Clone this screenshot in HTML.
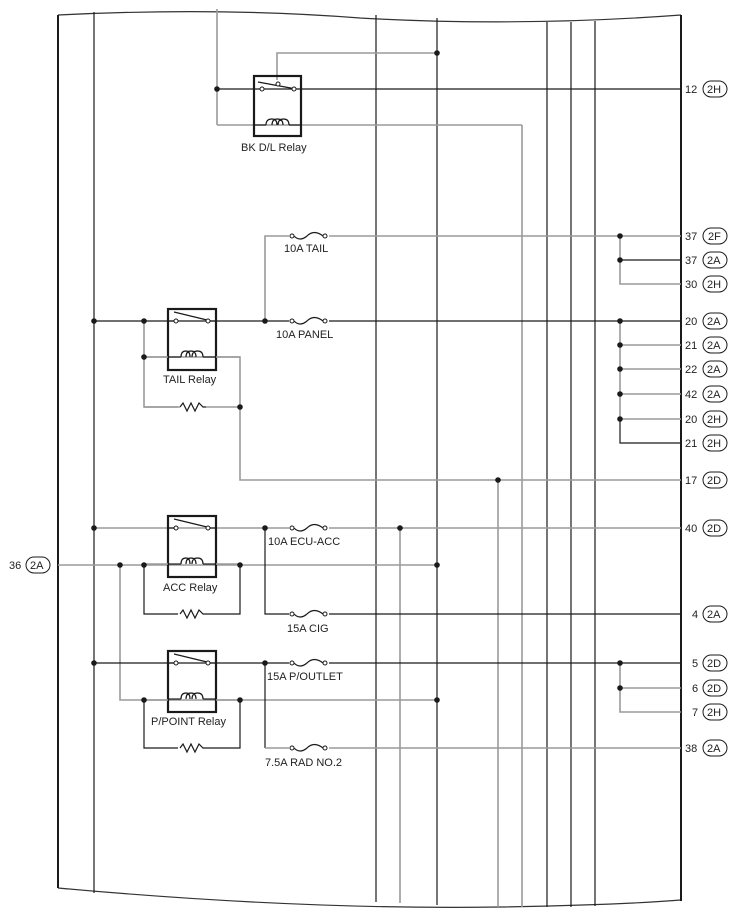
<!DOCTYPE html>
<html><head><meta charset="utf-8"><style>
body{margin:0;background:#fff}
svg{display:block}
text{font-family:"Liberation Sans",sans-serif;font-size:11px;fill:#222}
.k{stroke:#1a1a1a;stroke-width:1.2;fill:none}
.g{stroke:#9a9a9a;stroke-width:1.6;fill:none}
.box{stroke:#1a1a1a;stroke-width:2.2;fill:none}
.d{fill:#1a1a1a}
.o{fill:#fff;stroke:#1a1a1a;stroke-width:1}
.pill{fill:#fff;stroke:#1a1a1a;stroke-width:1}
</style></head><body>
<svg width="736" height="918" viewBox="0 0 736 918" xmlns="http://www.w3.org/2000/svg">
<!-- borders -->
<path d="M58,15 Q220,7 360,18 Q520,27 681,15" stroke="#333" stroke-width="1.2" fill="none"/>
<path d="M58,888 Q300,910 500,907 Q620,905 681,900" stroke="#333" stroke-width="1.2" fill="none"/>
<line x1="58" y1="15" x2="58" y2="888" stroke="#1a1a1a" stroke-width="2"/>
<line x1="681" y1="15" x2="681" y2="901" stroke="#1a1a1a" stroke-width="2"/>

<!-- verticals -->
<line class="k" x1="94" y1="12" x2="94" y2="893"/>
<line class="g" x1="217" y1="9" x2="217" y2="125"/>
<line class="k" x1="376" y1="15" x2="376" y2="902"/>
<line class="k" x1="437" y1="18" x2="437" y2="905"/>
<line class="g" x1="400" y1="528" x2="400" y2="903"/>
<line class="g" x1="498" y1="480" x2="498" y2="907"/>
<line class="g" x1="522" y1="125" x2="522" y2="907"/>
<line class="k" x1="547" y1="22" x2="547" y2="907"/>
<line class="k" x1="571" y1="22" x2="571" y2="907"/>
<line class="k" x1="595" y1="21" x2="595" y2="906"/>

<!-- BK D/L relay -->
<polyline class="g" points="437,53 277,53 277,80"/>
<line class="k" x1="217" y1="89" x2="681" y2="89"/>
<polyline class="g" points="217,125 522,125"/>
<rect class="box" x="254" y="76" width="47" height="60" fill="#fff"/>
<line class="k" x1="258" y1="82" x2="296" y2="89"/>
<line class="k" x1="254" y1="125" x2="266" y2="125"/><line class="k" x1="289" y1="125" x2="301" y2="125"/>
<path class="k" d="M266,125 Q266,119 272,119 Q277,119 277,125 M272,125 Q272,119 277.5,119 Q283,119 283,125 M278,125 Q278,119 283.5,119 Q289,119 289,125"/>
<circle class="o" cx="262" cy="89" r="2"/><circle class="o" cx="294" cy="89" r="2"/><circle class="o" cx="278" cy="84" r="2"/>
<circle class="d" cx="217" cy="89" r="2.8"/><circle class="d" cx="437" cy="53" r="2.8"/>
<text x="241" y="151" font-size="11.5">BK D/L Relay</text>

<!-- TAIL fuse -->
<polyline class="g" points="265,321 265,236 681,236"/>
<polyline class="k" points="620,260 681,260"/>
<polyline class="g" points="620,236 620,284 681,284"/>
<circle class="d" cx="620" cy="236" r="2.8"/><circle class="d" cx="620" cy="260" r="2.8"/>
<text x="284" y="252">10A TAIL</text>

<!-- TAIL relay row -->
<line class="k" x1="94" y1="321" x2="681" y2="321"/>
<polyline class="g" points="144,321 144,407 240,407"/>
<polyline class="g" points="144,357 240,357 240,480 681,480"/>
<polyline class="g" points="620,321 620,419"/>
<polyline class="k" points="620,419 620,443 681,443"/>
<line class="g" x1="620" y1="345" x2="681" y2="345"/>
<line class="g" x1="620" y1="369" x2="681" y2="369"/>
<line class="g" x1="620" y1="394" x2="681" y2="394"/>
<line class="g" x1="620" y1="419" x2="681" y2="419"/>
<text x="276" y="338">10A PANEL</text>
<text x="163" y="383" font-size="11.5">TAIL Relay</text>

<!-- ACC row -->
<line class="g" x1="94" y1="528" x2="681" y2="528"/>
<line class="g" x1="58" y1="565" x2="437" y2="565"/>
<polyline class="g" points="120,565 120,700 437,700"/>
<polyline class="k" points="144,565 144,614 240,614 240,565"/>
<polyline class="k" points="265,528 265,614 681,614"/>
<text x="268" y="545">10A ECU-ACC</text>
<text x="163" y="591" font-size="11.5">ACC Relay</text>
<text x="287" y="632">15A CIG</text>

<!-- P/POINT row -->
<line class="k" x1="94" y1="663" x2="681" y2="663"/>
<polyline class="k" points="144,700 144,748 240,748 240,700"/>
<polyline class="k" points="265,663 265,748"/>
<polyline class="g" points="265,748 681,748"/>
<polyline class="g" points="620,663 620,712 681,712"/>
<line class="g" x1="620" y1="688" x2="681" y2="688"/>
<text x="267" y="680">15A P/OUTLET</text>
<text x="151" y="725" font-size="11.5">P/POINT Relay</text>
<text x="265" y="766">7.5A RAD NO.2</text>

<!-- relays (tail, acc, ppoint) -->
<g id="r1">
<rect class="box" x="168" y="309" width="48" height="61" fill="#fff"/>
<line class="k" x1="168" y1="321" x2="174" y2="321"/><line class="k" x1="210" y1="321" x2="216" y2="321"/>
<line class="k" x1="174" y1="312" x2="207" y2="320"/>
<circle class="o" cx="176" cy="321" r="2"/><circle class="o" cx="208" cy="321" r="2"/>
<line class="k" x1="168" y1="357" x2="181" y2="357"/><line class="k" x1="203" y1="357" x2="216" y2="357"/>
<path class="k" d="M181,357 Q181,351 186,351 Q190,351 190,357 M186,357 Q186,351 191,351 Q196,351 196,357 M192,357 Q192,351 197.5,351 Q203,351 203,357"/>
</g>
<use href="#r1" transform="translate(0,207)"/>
<use href="#r1" transform="translate(0,342)"/>
<line class="g" x1="144" y1="357" x2="168" y2="357"/><line class="g" x1="216" y1="357" x2="240" y2="357"/>
<line class="g" x1="144" y1="564" x2="168" y2="564"/><line class="g" x1="216" y1="564" x2="240" y2="564"/>
<line class="g" x1="144" y1="700" x2="168" y2="700"/><line class="g" x1="216" y1="700" x2="240" y2="700"/>

<!-- resistors -->
<g id="res"><rect x="178" y="401" width="28" height="10" fill="#fff"/><polyline class="k" points="180,407 183,403 187,411 191,403 195,411 199,403 203,407 206,407"/></g>
<line class="g" x1="144" y1="407" x2="180" y2="407"/>
<use href="#res" transform="translate(0,207)"/>
<use href="#res" transform="translate(0,341)"/>

<!-- fuses -->
<g id="f1"><rect x="289" y="229" width="40" height="10" fill="#fff"/>
<path class="k" d="M294,236 Q300,242 307,236 Q314,229 323,236"/>
<circle class="o" cx="292" cy="236" r="2"/><circle class="o" cx="325" cy="236" r="2"/></g>
<use href="#f1" transform="translate(0,85)"/>
<use href="#f1" transform="translate(0,292)"/>
<use href="#f1" transform="translate(0,378)"/>
<use href="#f1" transform="translate(0,427)"/>
<use href="#f1" transform="translate(0,512)"/>

<!-- dots -->
<g class="d">
<circle cx="94" cy="321" r="2.8"/><circle cx="144" cy="321" r="2.8"/><circle cx="265" cy="321" r="2.8"/><circle cx="620" cy="321" r="2.8"/>
<circle cx="144" cy="357" r="2.8"/><circle cx="240" cy="407" r="2.8"/>
<circle cx="620" cy="345" r="2.8"/><circle cx="620" cy="369" r="2.8"/><circle cx="620" cy="394" r="2.8"/><circle cx="620" cy="419" r="2.8"/>
<circle cx="498" cy="480" r="2.8"/>
<circle cx="94" cy="528" r="2.8"/><circle cx="265" cy="528" r="2.8"/><circle cx="400" cy="528" r="2.8"/>
<circle cx="120" cy="565" r="2.8"/><circle cx="144" cy="565" r="2.8"/><circle cx="240" cy="565" r="2.8"/><circle cx="437" cy="565" r="2.8"/>
<circle cx="94" cy="663" r="2.8"/><circle cx="265" cy="663" r="2.8"/><circle cx="620" cy="663" r="2.8"/><circle cx="620" cy="688" r="2.8"/>
<circle cx="144" cy="700" r="2.8"/><circle cx="240" cy="700" r="2.8"/><circle cx="437" cy="700" r="2.8"/>
</g>

<!-- connector labels -->
<g>
<rect class="pill" x="703" y="81" width="24" height="16" rx="8"/><text x="685" y="93">12</text><text x="707" y="93">2H</text>
<rect class="pill" x="703" y="228" width="24" height="16" rx="8"/><text x="685" y="240">37</text><text x="708" y="240">2F</text>
<rect class="pill" x="703" y="252" width="24" height="16" rx="8"/><text x="685" y="264">37</text><text x="707" y="264">2A</text>
<rect class="pill" x="703" y="276" width="24" height="16" rx="8"/><text x="685" y="288">30</text><text x="707" y="288">2H</text>
<rect class="pill" x="703" y="313" width="24" height="16" rx="8"/><text x="685" y="325">20</text><text x="707" y="325">2A</text>
<rect class="pill" x="703" y="337" width="24" height="16" rx="8"/><text x="685" y="349">21</text><text x="707" y="349">2A</text>
<rect class="pill" x="703" y="361" width="24" height="16" rx="8"/><text x="685" y="373">22</text><text x="707" y="373">2A</text>
<rect class="pill" x="703" y="386" width="24" height="16" rx="8"/><text x="685" y="398">42</text><text x="707" y="398">2A</text>
<rect class="pill" x="703" y="411" width="24" height="16" rx="8"/><text x="685" y="423">20</text><text x="707" y="423">2H</text>
<rect class="pill" x="703" y="435" width="24" height="16" rx="8"/><text x="685" y="447">21</text><text x="707" y="447">2H</text>
<rect class="pill" x="703" y="472" width="24" height="16" rx="8"/><text x="685" y="484">17</text><text x="707" y="484">2D</text>
<rect class="pill" x="703" y="520" width="24" height="16" rx="8"/><text x="685" y="532">40</text><text x="707" y="532">2D</text>
<rect class="pill" x="703" y="606" width="24" height="16" rx="8"/><text x="692" y="618">4</text><text x="707" y="618">2A</text>
<rect class="pill" x="703" y="655" width="24" height="16" rx="8"/><text x="692" y="667">5</text><text x="707" y="667">2D</text>
<rect class="pill" x="703" y="680" width="24" height="16" rx="8"/><text x="692" y="692">6</text><text x="707" y="692">2D</text>
<rect class="pill" x="703" y="704" width="24" height="16" rx="8"/><text x="692" y="716">7</text><text x="707" y="716">2H</text>
<rect class="pill" x="703" y="740" width="24" height="16" rx="8"/><text x="685" y="752">38</text><text x="707" y="752">2A</text>
<rect class="pill" x="26" y="557" width="24" height="16" rx="8"/><text x="9" y="569">36</text><text x="30" y="569">2A</text>
</g>
</svg>
</body></html>
